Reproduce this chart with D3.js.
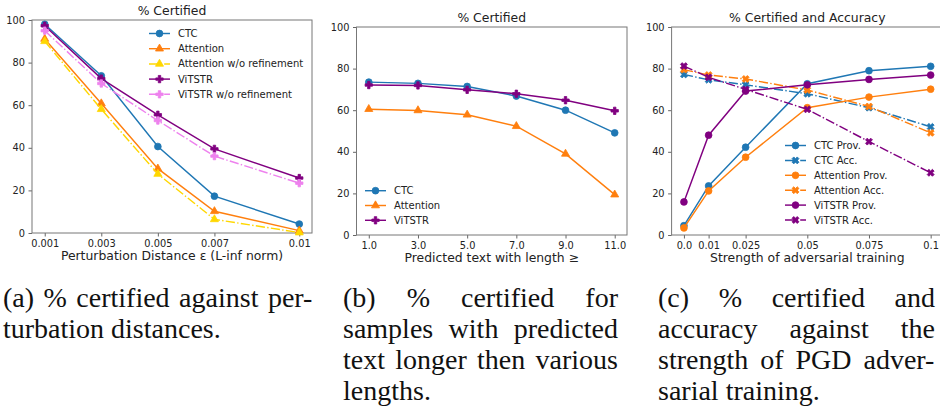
<!DOCTYPE html>
<html>
<head>
<meta charset="utf-8">
<script src="https://cdn.jsdelivr.net/npm/d3@7"></script>
<style>
    body { margin: 0; background: #fff; }
</style>
</head>
<body>
<script>
// Chart data
// =================================
// (a) % certified vs perturbation distance
var epsValues = [0.001, 0.003, 0.005, 0.007, 0.01];
var epsLabels = ["0.001", "0.003", "0.005", "0.007", "0.01"];
var ctcEps = [98.0, 73.8, 40.6, 17.3, 4.2];
var attnEps = [91.1, 60.8, 30.2, 10.2, 1.1];
var attnNoRefEps = [90.0, 58.1, 27.7, 6.4, 0.2];
var vitEps = [97.3, 72.5, 55.5, 39.5, 25.8];
var vitNoRefEps = [95.0, 70.2, 52.8, 36.1, 23.4];

// (b) % certified vs predicted text length
var lenValues = [1, 3, 5, 7, 9, 11];
var lenLabels = ["1.0", "3.0", "5.0", "7.0", "9.0", "11.0"];
var ctcLen = [73.5, 72.9, 71.4, 66.8, 60.0, 49.1];
var attnLen = [60.5, 59.9, 57.8, 52.3, 39.0, 19.4];
var vitLen = [72.1, 71.9, 69.8, 67.9, 64.8, 59.7];

// (c) % certified and accuracy vs adversarial training strength
var advValues = [0.0, 0.01, 0.025, 0.05, 0.075, 0.1];
var advLabels = ["0.0", "0.01", "0.025", "0.05", "0.075", "0.1"];
var ctcProv = [4.5, 23.6, 42.2, 72.7, 79.0, 81.1];
var ctcAcc = [77.2, 74.6, 72.2, 67.9, 61.2, 52.0];
var attnProv = [3.4, 21.2, 37.4, 61.2, 66.3, 70.1];
var attnAcc = [79.5, 76.9, 75.0, 69.7, 61.8, 49.1];
var vitProv = [15.9, 48.0, 69.2, 72.2, 74.8, 76.9];
var vitAcc = [81.2, 75.8, 70.0, 60.4, 44.9, 29.9];

var yTicks = [0, 20, 40, 60, 80, 100];

var captionA = ["(a) % certified against per-", "turbation distances."];
var captionB = ["(b) % certified for", "samples with predicted", "text longer then various", "lengths."];
var captionC = ["(c) % certified and", "accuracy against the", "strength of PGD adver-", "sarial training."];

// Set up the svg
// =================================
var svgWidth = 940;
var svgHeight = 414;

var svg = d3.select("body")
    .append("svg")
    .attr("width", svgWidth)
    .attr("height", svgHeight);

var blue = "#1f77b4", orange = "#ff7f0e", gold = "#ffd700", purple = "#800080", violet = "#ee82ee";
var dashDot = "9.2,2.3,1.4,2.3";
var textColor = "#222";
var sans = "\"DejaVu Sans\"";

function markerPath(shape) {
    if (shape === "circle") return d3.symbol(d3.symbolCircle, 36)();
    if (shape === "triangle") return d3.symbol(d3.symbolTriangle, 28)();
    return d3.symbol(d3.symbolCross, 30)();
}

function drawPanel(p) {
    var g = svg.append("g");

    // matplotlib style 5% margin on x
    var span = p.xDomain[1] - p.xDomain[0];
    var xScale = d3.scaleLinear()
        .domain([p.xDomain[0] - span * 0.05, p.xDomain[1] + span * 0.05])
        .range([p.left, p.right]);
    var yScale = d3.scaleLinear()
        .domain([0, 100])
        .range([p.bottom, p.top]);

    var bottomAxis = d3.axisBottom(xScale)
        .tickValues(p.xTicks)
        .tickFormat((d, i) => p.xLabels[i])
        .tickSize(3.5).tickPadding(3.5).tickSizeOuter(0);
    var leftAxis = d3.axisLeft(yScale)
        .tickValues(yTicks)
        .tickSize(3.5).tickPadding(3.5).tickSizeOuter(0);

    var xa = g.append("g")
        .attr("transform", `translate(0, ${p.bottom})`)
        .call(bottomAxis);
    var ya = g.append("g")
        .attr("transform", `translate(${p.left}, 0)`)
        .call(leftAxis);
    [xa, ya].forEach(function (a) {
        a.select(".domain").remove();
        a.selectAll("line").attr("stroke", "#666");
        a.selectAll("text")
            .style("font-family", sans)
            .style("font-size", "9.8px")
            .attr("fill", textColor);
    });

    // frame
    g.append("rect")
        .attr("x", p.left).attr("y", p.top)
        .attr("width", p.right - p.left).attr("height", p.bottom - p.top)
        .attr("fill", "none").attr("stroke", "#777").attr("stroke-width", 1);

    // title and x label
    g.append("text")
        .attr("x", (p.left + p.right) / 2).attr("y", p.top - 5)
        .attr("text-anchor", "middle").attr("fill", textColor)
        .style("font-family", sans).style("font-size", "12.4px")
        .text(p.title);
    g.append("text")
        .attr("x", (p.left + p.right) / 2).attr("y", p.bottom + 27)
        .attr("text-anchor", "middle").attr("fill", textColor)
        .style("font-family", sans).style("font-size", "12.4px")
        .text(p.xTitle);

    var line = d3.line()
        .x((d, i) => xScale(p.xTicks[i]))
        .y(d => yScale(d));

    p.series.forEach(function (s) {
        g.append("path")
            .datum(s.values)
            .attr("d", line)
            .attr("fill", "none")
            .attr("stroke", s.color)
            .attr("stroke-width", 1.45)
            .attr("stroke-dasharray", s.dash ? dashDot : null);

        g.append("g").selectAll("path")
            .data(s.values)
            .enter()
            .append("path")
            .attr("d", markerPath(s.shape))
            .attr("transform", (d, i) => `translate(${xScale(p.xTicks[i])}, ${yScale(d)})` + (s.shape === "x" ? " rotate(45)" : ""))
            .attr("fill", s.color)
            .attr("stroke", s.color)
            .attr("stroke-width", 0.8);
    });

    // legend (no frame)
    var lg = g.append("g");
    p.series.forEach(function (s, i) {
        var y = p.legend.y + i * p.legend.step;
        var x0 = p.legend.x;
        lg.append("line")
            .attr("x1", x0).attr("x2", x0 + 21)
            .attr("y1", y).attr("y2", y)
            .attr("stroke", s.color).attr("stroke-width", 1.45)
            .attr("stroke-dasharray", s.dash ? dashDot : null);
        lg.append("path")
            .attr("d", markerPath(s.shape))
            .attr("transform", `translate(${x0 + 10.5}, ${y})` + (s.shape === "x" ? " rotate(45)" : ""))
            .attr("fill", s.color).attr("stroke", s.color).attr("stroke-width", 0.8);
        lg.append("text")
            .attr("x", x0 + 29).attr("y", y).attr("dy", "0.35em")
            .attr("fill", textColor)
            .style("font-family", sans).style("font-size", "10px")
            .text(s.name);
    });
}

drawPanel({
    left: 32, right: 312, top: 20, bottom: 233,
    xDomain: [0.001, 0.01], xTicks: epsValues, xLabels: epsLabels,
    title: "% Certified", xTitle: "Perturbation Distance \u03b5 (L-inf norm)",
    legend: { x: 149, y: 33.5, step: 15.2 },
    series: [
        { name: "CTC", values: ctcEps, color: blue, shape: "circle" },
        { name: "Attention", values: attnEps, color: orange, shape: "triangle" },
        { name: "Attention w/o refinement", values: attnNoRefEps, color: gold, shape: "triangle", dash: true },
        { name: "ViTSTR", values: vitEps, color: purple, shape: "plus" },
        { name: "ViTSTR w/o refinement", values: vitNoRefEps, color: violet, shape: "plus", dash: true }
    ]
});

drawPanel({
    left: 356.5, right: 627, top: 27, bottom: 235,
    xDomain: [1, 11], xTicks: lenValues, xLabels: lenLabels,
    title: "% Certified", xTitle: "Predicted text with length \u2265",
    legend: { x: 365, y: 190.7, step: 14.8 },
    series: [
        { name: "CTC", values: ctcLen, color: blue, shape: "circle" },
        { name: "Attention", values: attnLen, color: orange, shape: "triangle" },
        { name: "ViTSTR", values: vitLen, color: purple, shape: "plus" }
    ]
});

drawPanel({
    left: 671.6, right: 943, top: 27, bottom: 235,
    xDomain: [0, 0.1], xTicks: advValues, xLabels: advLabels,
    title: "% Certified and Accuracy", xTitle: "Strength of adversarial training",
    legend: { x: 785, y: 145.5, step: 14.9 },
    series: [
        { name: "CTC Prov.", values: ctcProv, color: blue, shape: "circle" },
        { name: "CTC Acc.", values: ctcAcc, color: blue, shape: "x", dash: true },
        { name: "Attention Prov.", values: attnProv, color: orange, shape: "circle" },
        { name: "Attention Acc.", values: attnAcc, color: orange, shape: "x", dash: true },
        { name: "ViTSTR Prov.", values: vitProv, color: purple, shape: "circle" },
        { name: "ViTSTR Acc.", values: vitAcc, color: purple, shape: "x", dash: true }
    ]
});

// Captions, justified like the LaTeX subcaptions.
// Word widths come from Times-compatible advance widths (Liberation Serif),
// so no layout measurement is needed before the font is ready.
// =================================
var serifWidths = {
    "a": 444, "b": 500, "c": 444, "d": 500, "e": 444, "f": 333, "g": 500, "h": 500,
    "i": 278, "l": 278, "m": 778, "n": 500, "o": 500, "p": 500, "r": 333, "s": 389,
    "t": 278, "u": 500, "v": 500, "w": 722, "x": 500, "y": 500, "(": 333, ")": 333,
    "%": 833, ".": 250, "-": 333, "S": 556, "P": 556, "G": 722, "D": 722
};
var captionSize = 28;

function wordWidth(w) {
    return d3.sum(w.split(""), c => serifWidths[c] || 500) * captionSize / 1000;
}

function drawCaption(lines, x0, x1, y0) {
    lines.forEach(function (txt, i) {
        var words = txt.split(" ");
        var widths = words.map(wordWidth);
        var last = i === lines.length - 1;
        var gap = last ? 0.25 * captionSize : (x1 - x0 - d3.sum(widths)) / (words.length - 1);
        var x = x0;
        words.forEach(function (w, j) {
            svg.append("text")
                .attr("x", x)
                .attr("y", y0 + i * 31)
                .attr("fill", "#111")
                .style("font-family", "\"Liberation Serif\"")
                .style("font-size", captionSize + "px")
                .text(w);
            x += widths[j] + gap;
        });
    });
}

drawCaption(captionA, 3, 313, 307);
drawCaption(captionB, 343, 618, 307);
drawCaption(captionC, 658, 935, 307);
</script>
</body>
</html>
